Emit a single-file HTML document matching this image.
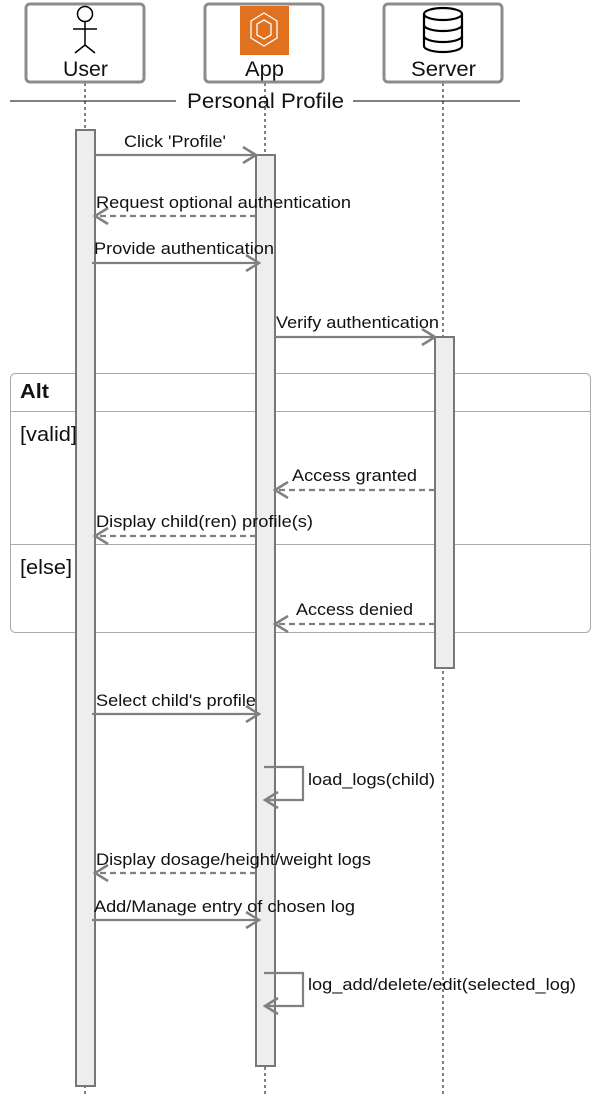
<!DOCTYPE html>
<html><head><meta charset="utf-8"><style>
html,body{margin:0;padding:0;background:#fff;}
svg{display:block;font-family:"Liberation Sans",Arial,sans-serif;}
</style></head><body>
<svg width="613" height="1096" viewBox="0 0 613 1096" xmlns="http://www.w3.org/2000/svg">
<defs>
<marker id="a" markerWidth="24" markerHeight="24" refX="16" refY="10" orient="auto" markerUnits="userSpaceOnUse">
<path d="M3,2 L16,10 L3,18" fill="none" stroke="#808080" stroke-width="2.5"/>
</marker>
</defs>
<g stroke="#000" stroke-width="1" stroke-dasharray="3,3">
<line x1="85" y1="83" x2="85" y2="1096"/>
<line x1="265" y1="83" x2="265" y2="1096"/>
<line x1="443" y1="83" x2="443" y2="1096"/>
</g>
<g fill="#fff" stroke="#8c8c8c" stroke-width="3">
<rect x="26" y="4" width="118" height="78" rx="4"/>
<rect x="205" y="4" width="118" height="78" rx="4"/>
<rect x="384" y="4" width="118" height="78" rx="4"/>
</g>
<g stroke="#000" stroke-width="1.5" fill="none">
<circle cx="85" cy="14" r="7.5"/>
<line x1="85" y1="21.5" x2="85" y2="45"/>
<line x1="73" y1="29" x2="97" y2="29"/>
<line x1="85" y1="45" x2="75" y2="53"/>
<line x1="85" y1="45" x2="95" y2="53"/>
</g>
<rect x="240" y="6" width="49" height="49" fill="#e0711f"/>
<g stroke="#fff" stroke-width="1.3" fill="none">
<path d="M264,13 L277,21 L277,38 L264,46 L251,38 L251,21 Z"/>
<path d="M264,20 L271,24 L271,35 L264,39 L257,35 L257,24 Z"/>
</g>
<g stroke="#000" stroke-width="2.2" fill="#fff">
<path d="M424,14 v32 a19,6 0 0 0 38,0 v-32"/>
<ellipse cx="443" cy="14" rx="19" ry="6"/>
<path d="M424,25 a19,6 0 0 0 38,0 M424,36 a19,6 0 0 0 38,0" fill="none"/>
</g>
<g font-size="21" fill="#111">
<text x="63" y="76" textLength="45" lengthAdjust="spacingAndGlyphs">User</text>
<text x="245" y="76" textLength="39" lengthAdjust="spacingAndGlyphs">App</text>
<text x="411" y="76" textLength="65" lengthAdjust="spacingAndGlyphs">Server</text>
<text x="187" y="108" textLength="157" lengthAdjust="spacingAndGlyphs">Personal Profile</text>
</g>
<line x1="10" y1="101" x2="176" y2="101" stroke="#000"/>
<line x1="353" y1="101" x2="520" y2="101" stroke="#000"/>
<rect x="10.5" y="373.5" width="580" height="259" rx="5" fill="none" stroke="#aaa"/>
<line x1="10" y1="411.5" x2="590" y2="411.5" stroke="#aaa"/>
<line x1="10" y1="544.5" x2="590" y2="544.5" stroke="#aaa"/>
<g fill="#eee" stroke="#777" stroke-width="2">
<rect x="76" y="130" width="19" height="956"/>
<rect x="256" y="155" width="19" height="911"/>
<rect x="435" y="337" width="19" height="331"/>
</g>
<g font-size="20" fill="#111">
<text x="20" y="398" font-weight="bold" textLength="29" lengthAdjust="spacingAndGlyphs">Alt</text>
<text x="20" y="441" textLength="57" lengthAdjust="spacingAndGlyphs">[valid]</text>
<text x="20" y="574" textLength="52" lengthAdjust="spacingAndGlyphs">[else]</text>
</g>
<g stroke="#808080" stroke-width="2.2" fill="none" marker-end="url(#a)">
<line x1="95" y1="155" x2="256" y2="155"/>
<line x1="256" y1="216" x2="95" y2="216" stroke-dasharray="6,4"/>
<line x1="92" y1="263" x2="259" y2="263"/>
<line x1="275" y1="337" x2="435" y2="337"/>
<line x1="435" y1="490" x2="275" y2="490" stroke-dasharray="6,4"/>
<line x1="256" y1="536" x2="95" y2="536" stroke-dasharray="6,4"/>
<line x1="435" y1="624" x2="275" y2="624" stroke-dasharray="6,4"/>
<line x1="92" y1="714" x2="259" y2="714"/>
<path d="M264,767 H303 V800 H265"/>
<line x1="256" y1="873" x2="95" y2="873" stroke-dasharray="6,4"/>
<line x1="92" y1="920" x2="259" y2="920"/>
<path d="M264,973 H303 V1006 H265"/>
</g>
<g font-size="17" fill="#111">
<text x="124" y="147" textLength="102" lengthAdjust="spacingAndGlyphs">Click 'Profile'</text>
<text x="96" y="208" textLength="255" lengthAdjust="spacingAndGlyphs">Request optional authentication</text>
<text x="94" y="254" textLength="180" lengthAdjust="spacingAndGlyphs">Provide authentication</text>
<text x="276" y="328" textLength="163" lengthAdjust="spacingAndGlyphs">Verify authentication</text>
<text x="292" y="481" textLength="125" lengthAdjust="spacingAndGlyphs">Access granted</text>
<text x="96" y="527" textLength="217" lengthAdjust="spacingAndGlyphs">Display child(ren) profile(s)</text>
<text x="296" y="615" textLength="117" lengthAdjust="spacingAndGlyphs">Access denied</text>
<text x="96" y="706" textLength="160" lengthAdjust="spacingAndGlyphs">Select child's profile</text>
<text x="308" y="785" textLength="127" lengthAdjust="spacingAndGlyphs">load_logs(child)</text>
<text x="96" y="865" textLength="275" lengthAdjust="spacingAndGlyphs">Display dosage/height/weight logs</text>
<text x="94" y="912" textLength="261" lengthAdjust="spacingAndGlyphs">Add/Manage entry of chosen log</text>
<text x="308" y="990" textLength="268" lengthAdjust="spacingAndGlyphs">log_add/delete/edit(selected_log)</text>
</g>
</svg>
</body></html>
